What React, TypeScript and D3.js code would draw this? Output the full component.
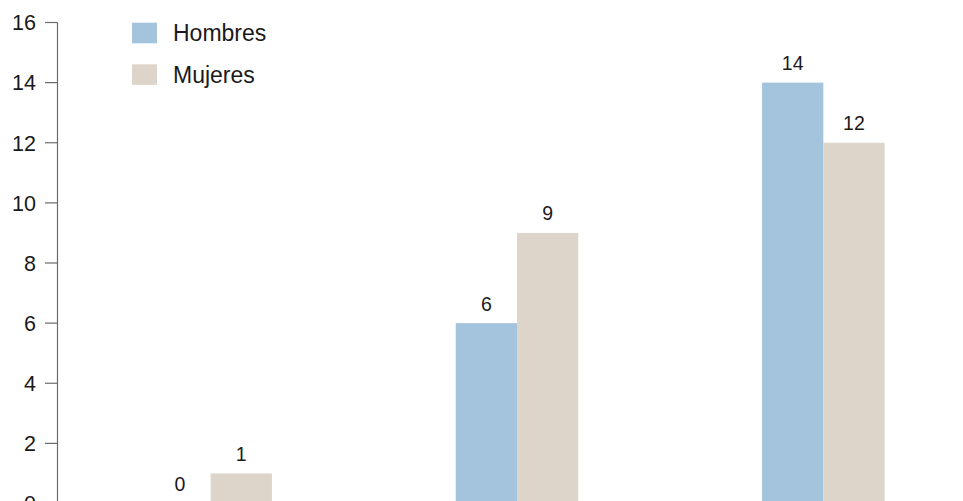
import React from "react";
import * as d3 from "d3";

const categories = ["Grupo 1", "Grupo 2", "Grupo 3"];
const series = ["Hombres", "Mujeres"];
const hombres = [0, 6, 14];
const mujeres = [1, 9, 12];
const yTicks = [0, 2, 4, 6, 8, 10, 12, 14, 16];

const W = 963;
const H = 501;
const colors = ["#a3c4dc", "#ddd5c9"];
const FONT = "'Liberation Sans', Arial, Helvetica, sans-serif";

export default function App() {
  const axisX = 57.5;
  const x = d3
    .scaleBand<string>()
    .domain(categories)
    .range([axisX, 976.5])
    .paddingInner(0.6)
    .paddingOuter(0.3);
  const xs = d3.scaleBand<string>().domain(series).range([0, x.bandwidth()]);
  const y = d3.scaleLinear().domain([0, 16]).range([503.5, 22.5]);
  const data = [hombres, mujeres];

  return (
    <svg
      width={W}
      height={H}
      style={{ position: "fixed", left: 0, top: 0, background: "#fff", overflow: "hidden" }}
      fontFamily={FONT}
    >
      <rect x={0} y={0} width={W} height={H} fill="#fff" />
      {categories.map((c, ci) => (
        <g key={c} transform={`translate(${x(c)},0)`}>
          {series.map((s, si) => {
            const v = data[si][ci];
            return (
              <g key={s}>
                <rect
                  x={xs(s)}
                  y={y(v)}
                  width={xs.bandwidth()}
                  height={Math.max(0, y(0) - y(v))}
                  fill={colors[si]}
                />
                <text
                  x={(xs(s) as number) + xs.bandwidth() / 2}
                  y={y(v) - 12.5}
                  textAnchor="middle"
                  fontSize={19.5}
                  fill="#1a1a1a"
                >
                  {v}
                </text>
              </g>
            );
          })}
        </g>
      ))}
      <line x1={axisX} x2={axisX} y1={y(16)} y2={H + 10} stroke="#6a6a6a" strokeWidth={1.2} />
      {yTicks.map((t) => (
        <g key={t} transform={`translate(0,${y(t)})`}>
          <line x1={45} x2={axisX} stroke="#6a6a6a" strokeWidth={1.2} />
          <text x={36} dy="0.36em" textAnchor="end" fontSize={21.5} fill="#1a1a1a">
            {t}
          </text>
        </g>
      ))}
      {series.map((s, si) => (
        <g key={s} transform={`translate(132,${22.7 + si * 41.6})`}>
          <rect x={0} y={0} width={25} height={20.6} fill={colors[si]} />
          <text x={41} y={18.3} fontSize={23} fill="#1a1a1a">
            {s}
          </text>
        </g>
      ))}
    </svg>
  );
}
